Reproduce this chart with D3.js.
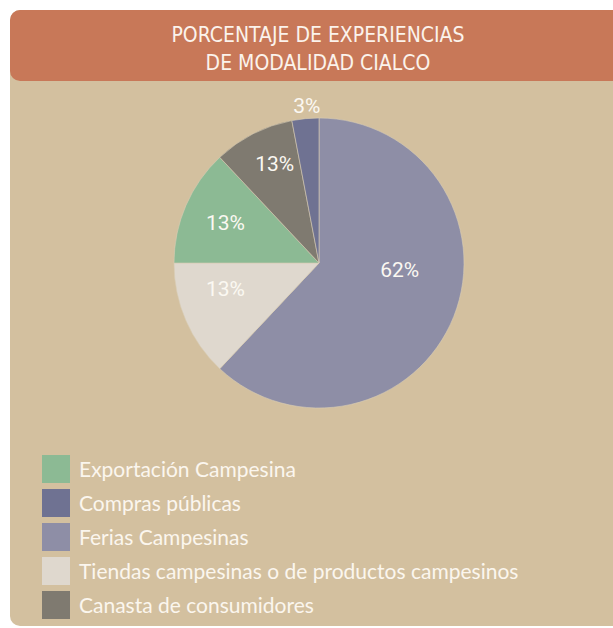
<!DOCTYPE html>
<html>
<head>
<meta charset="utf-8">
<script src="https://cdn.jsdelivr.net/npm/d3@7"></script>
<style>
  body { margin: 0; background: #fff; }
  svg { display: block; }
</style>
</head>
<body>
<script>
// data
var categories = ["Exportación Campesina", "Compras públicas", "Ferias Campesinas",
                  "Tiendas campesinas o de productos campesinos", "Canasta de consumidores"];
var shares = [13, 3, 62, 13, 9];            // slice size (from the drawn angles)
var shareLabels = ["13%", "3%", "62%", "13%", "13%"];  // printed labels
var colors = ["#8cba94", "#6f7292", "#8e8ea6", "#dfd8ce", "#7f7a70"];
var pieOrder = [2, 3, 0, 4, 1];              // clockwise from 12 o'clock
var titleLines = ["PORCENTAJE DE EXPERIENCIAS", "DE  MODALIDAD CIALCO"];

var W = 613, H = 628;
var cx = 319, cy = 263, R = 145;

// label placement tweaks (angle shift in degrees, radius in px)
var labelPlace = {
    "Ferias Campesinas": [-17, 81],
    "Tiendas campesinas o de productos campesinos": [8, 97],
    "Exportación Campesina": [0, 102],
    "Canasta de consumidores": [3, 109],
    "Compras públicas": [1, 158]
};

var svg = d3.select("body").append("svg")
    .attr("width", W)
    .attr("height", H);

// panel + header
svg.append("rect")
    .attr("x", 10).attr("y", 10)
    .attr("width", 640).attr("height", 616)
    .attr("rx", 10)
    .style("fill", "#d3c09f");

svg.append("rect")
    .attr("x", 10).attr("y", 10)
    .attr("width", 640).attr("height", 71)
    .attr("rx", 10)
    .style("fill", "#c87858");

svg.selectAll(".title").data(titleLines).enter().append("text")
    .attr("class", "title")
    .attr("x", 318)
    .attr("y", function(d, i) { return 42 + i * 28; })
    .attr("text-anchor", "middle")
    .style("font-family", "'Liberation Sans Narrow', 'DejaVu Sans Condensed', sans-serif")
    .style("font-size", "21px")
    .style("fill", "#fbf3ec")
    .text(function(d) { return d; });

// pie
var data = pieOrder.map(function(i) {
    return { name: categories[i], value: shares[i], label: shareLabels[i], color: colors[i] };
});

var pie = d3.pie().sort(null).value(function(d) { return d.value; });
var arc = d3.arc().innerRadius(0).outerRadius(R);

var g = svg.append("g").attr("transform", "translate(" + cx + "," + cy + ")");

var slices = pie(data);

g.selectAll("path").data(slices).enter().append("path")
    .attr("d", arc)
    .style("fill", function(d) { return d.data.color; })
    .style("stroke", "#d8ccb6")
    .style("stroke-width", 0.6);

g.selectAll(".lbl").data(slices).enter().append("text")
    .attr("class", "lbl")
    .attr("transform", function(d) {
        var p = labelPlace[d.data.name];
        var a = (d.startAngle + d.endAngle) / 2 + p[0] * Math.PI / 180;
        return "translate(" + (p[1] * Math.sin(a)) + "," + (-p[1] * Math.cos(a)) + ")";
    })
    .attr("dy", "0.36em")
    .attr("text-anchor", "middle")
    .style("font-family", "Roboto, sans-serif")
    .style("font-size", "21px")
    .style("fill", "#fbf8f2")
    .text(function(d) { return d.data.label; });

// legend
var legend = svg.selectAll(".leg").data(categories).enter().append("g")
    .attr("class", "leg")
    .attr("transform", function(d, i) { return "translate(42," + (455 + i * 34) + ")"; });

legend.append("rect")
    .attr("width", 28).attr("height", 28)
    .style("fill", function(d, i) { return colors[i]; });

legend.append("text")
    .attr("x", 37)
    .attr("y", 22)
    .style("font-family", "Lato, sans-serif")
    .style("font-size", "21px")
    .style("fill", "#fbf6ee")
    .text(function(d) { return d; });
</script>
</body>
</html>
